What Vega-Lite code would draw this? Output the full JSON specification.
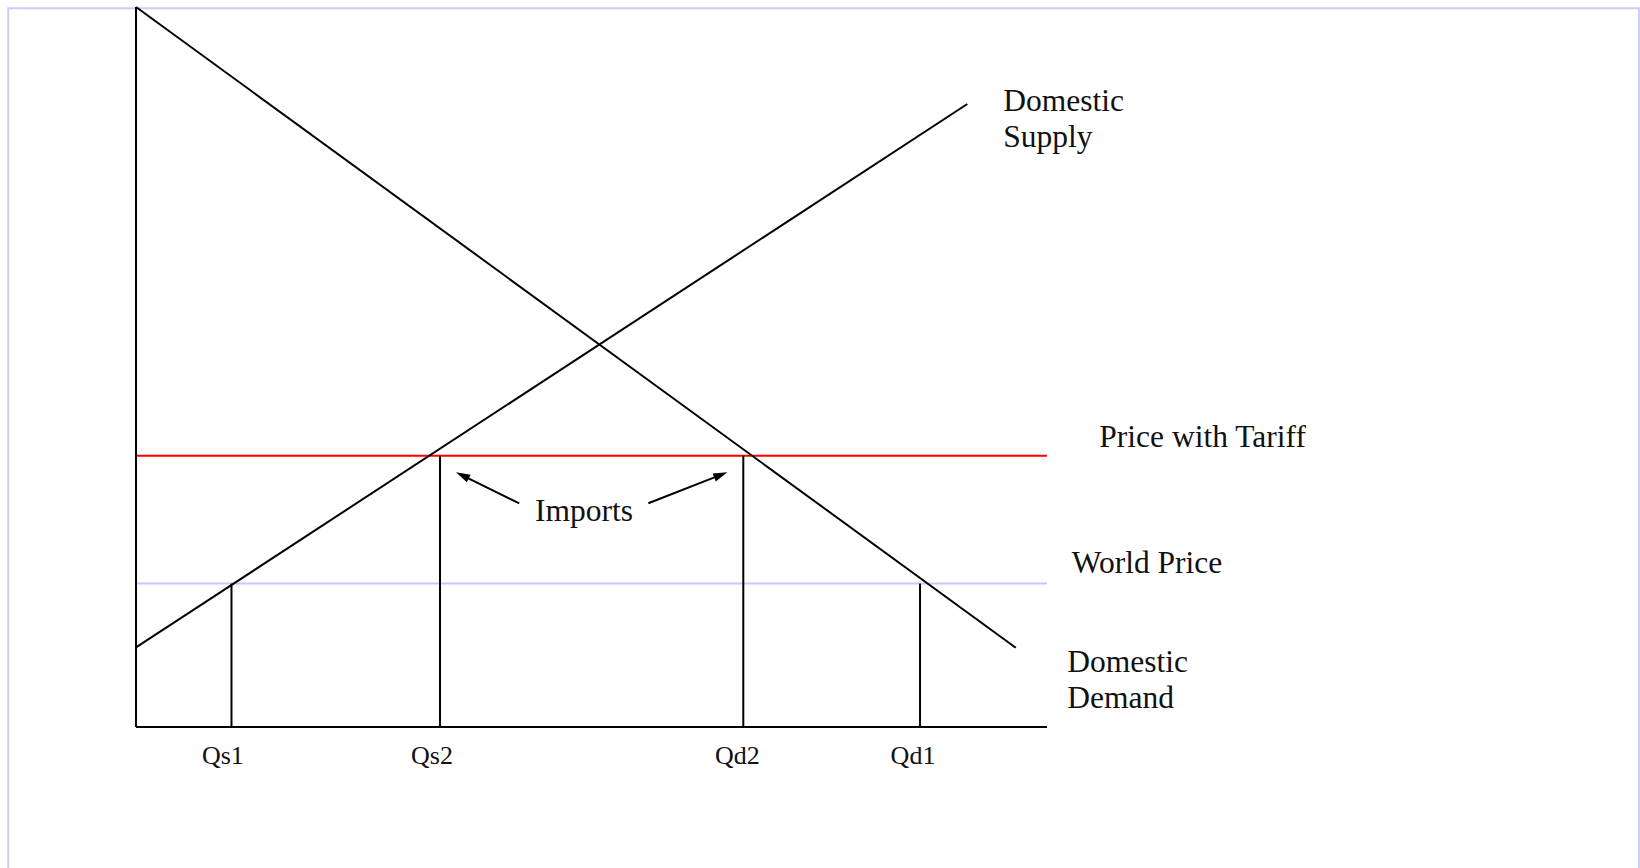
{
  "$schema": "https://vega.github.io/schema/vega-lite/v6.json",
  "width": 1640,
  "height": 868,
  "autosize": "none",
  "padding": 0,
  "background": "white",
  "config": {"view": {"stroke": null}},
  "datasets": {
    "frame": [{"x": -14.02, "x2": 164.99, "y": -25, "y2": 99.82}],
    "segments": [
      {"line": "World Price", "kind": "world", "x": 0, "y": 19.92, "x2": 100, "y2": 19.92},
      {"line": "Price with Tariff", "kind": "tariff", "x": 0, "y": 37.68, "x2": 100, "y2": 37.68},
      {"line": "Price axis", "kind": "black", "x": 0, "y": 0, "x2": 0, "y2": 100},
      {"line": "Quantity axis", "kind": "black", "x": 0, "y": 0, "x2": 100, "y2": 0},
      {"line": "Domestic Demand", "kind": "black", "x": 0, "y": 100, "x2": 96.57, "y2": 11.01},
      {"line": "Domestic Supply", "kind": "black", "x": 0, "y": 11.06, "x2": 91.25, "y2": 86.53},
      {"line": "Qs1", "kind": "black", "x": 10.48, "y": 0, "x2": 10.48, "y2": 19.92},
      {"line": "Qs2", "kind": "black", "x": 33.37, "y": 0, "x2": 33.37, "y2": 37.68},
      {"line": "Qd2", "kind": "black", "x": 66.66, "y": 0, "x2": 66.66, "y2": 37.68},
      {"line": "Qd1", "kind": "black", "x": 86.06, "y": 0, "x2": 86.06, "y2": 19.92},
      {"line": "Imports left", "kind": "black", "x": 42.07, "y": 31.07, "x2": 35.82, "y2": 34.94},
      {"line": "Imports right", "kind": "black", "x": 56.24, "y": 31.07, "x2": 64.19, "y2": 35.01}
    ],
    "heads": [
      {"arrow": "left", "x": 35.82, "y": 34.94},
      {"arrow": "right", "x": 64.19, "y": 35.01}
    ],
    "labels": [
      {"label": "Domestic", "x": 95.2, "y": 85.6},
      {"label": "Supply", "x": 95.2, "y": 80.6},
      {"label": "Price with Tariff", "x": 105.74, "y": 38.85},
      {"label": "World Price", "x": 102.71, "y": 21.43},
      {"label": "Domestic", "x": 102.23, "y": 7.68},
      {"label": "Demand", "x": 102.23, "y": 2.6}
    ],
    "center": [
      {"label": "Imports", "x": 49.18, "y": 28.61}
    ],
    "ticks": [
      {"label": "Qs1", "x": 9.53, "y": -5.07},
      {"label": "Qs2", "x": 32.49, "y": -5.07},
      {"label": "Qd2", "x": 66.02, "y": -5.07},
      {"label": "Qd1", "x": 85.29, "y": -5.07}
    ]
  },
  "layer": [
    {
      "data": {"name": "frame"},
      "mark": {"type": "rect", "fill": null, "stroke": "#ccccff", "strokeWidth": 2, "clip": false},
      "encoding": {
        "x": {"field": "x", "type": "quantitative", "scale": {"domain": [-14.93, 165.09], "nice": false, "zero": false}, "axis": null},
        "x2": {"field": "x2"},
        "y": {"field": "y", "type": "quantitative", "scale": {"domain": [-19.58, 100.97], "nice": false, "zero": false}, "axis": null},
        "y2": {"field": "y2"}
      }
    },
    {
      "data": {"name": "segments"},
      "mark": {"type": "rule", "strokeWidth": 2},
      "encoding": {
        "x": {"field": "x", "type": "quantitative"},
        "x2": {"field": "x2"},
        "y": {"field": "y", "type": "quantitative"},
        "y2": {"field": "y2"},
        "color": {"field": "kind", "type": "nominal", "scale": {"domain": ["world", "tariff", "black"], "range": ["#c8c8ff", "#ff0000", "#000000"]}, "legend": null}
      }
    },
    {
      "data": {"name": "heads"},
      "transform": [{"filter": "datum.arrow === 'left'"}],
      "mark": {"type": "point", "shape": "M0,-1L0.6,1L-0.6,1Z", "filled": true, "color": "#000000", "opacity": 1, "size": 200, "angle": 296},
      "encoding": {
        "x": {"field": "x", "type": "quantitative"},
        "y": {"field": "y", "type": "quantitative"}
      }
    },
    {
      "data": {"name": "heads"},
      "transform": [{"filter": "datum.arrow === 'right'"}],
      "mark": {"type": "point", "shape": "M0,-1L0.6,1L-0.6,1Z", "filled": true, "color": "#000000", "opacity": 1, "size": 200, "angle": 68.6},
      "encoding": {
        "x": {"field": "x", "type": "quantitative"},
        "y": {"field": "y", "type": "quantitative"}
      }
    },
    {
      "data": {"name": "labels"},
      "mark": {"type": "text", "align": "left", "baseline": "alphabetic", "font": "Liberation Serif", "fontSize": 31.5, "color": "#111111"},
      "encoding": {
        "x": {"field": "x", "type": "quantitative"},
        "y": {"field": "y", "type": "quantitative"},
        "text": {"field": "label"}
      }
    },
    {
      "data": {"name": "center"},
      "mark": {"type": "text", "align": "center", "baseline": "alphabetic", "font": "Liberation Serif", "fontSize": 31.5, "color": "#111111"},
      "encoding": {
        "x": {"field": "x", "type": "quantitative"},
        "y": {"field": "y", "type": "quantitative"},
        "text": {"field": "label"}
      }
    },
    {
      "data": {"name": "ticks"},
      "mark": {"type": "text", "align": "center", "baseline": "alphabetic", "font": "Liberation Serif", "fontSize": 26, "color": "#111111"},
      "encoding": {
        "x": {"field": "x", "type": "quantitative"},
        "y": {"field": "y", "type": "quantitative"},
        "text": {"field": "label"}
      }
    }
  ]
}
